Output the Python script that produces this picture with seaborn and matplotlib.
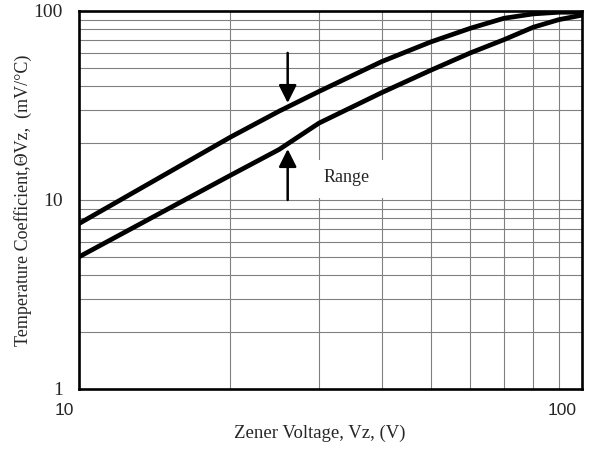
import numpy as np
import pandas as pd
import matplotlib
matplotlib.use("Agg")
import matplotlib.pyplot as plt
import matplotlib.transforms as mtransforms
from matplotlib.patches import Rectangle
from matplotlib.ticker import LogLocator, NullFormatter, FixedLocator, FixedFormatter
import seaborn as sns

# ---- data ----
vz_upper = [10, 20, 25, 30, 40, 50, 60, 70, 80, 90, 100]
tc_upper = [7.5, 21.5, 29.5, 37.5, 54, 68.5, 81, 91.5, 96.5, 98.5, 98.5]
vz_lower = [10, 20, 25, 30, 40, 50, 60, 70, 80, 90, 100]
tc_lower = [5.0, 13.5, 18.5, 25.5, 37, 48.5, 60, 70.5, 82, 90, 95]
x_ticks = [10, 100]
x_ticklabels = ["10", "100"]
y_ticks = [1, 10, 100]
y_ticklabels = ["1", "10", "100"]
range_label = "Range"
arrow_x = 26.0
arrow_down = (60.0, 32.6)   # start, tip
arrow_up = (10.0, 18.6)     # start, tip

df = pd.concat([
    pd.DataFrame({"Vz": vz_upper, "TC": tc_upper, "curve": "max"}),
    pd.DataFrame({"Vz": vz_lower, "TC": tc_lower, "curve": "min"}),
])

sns.set_style("white")
serif = ["Liberation Serif", "DejaVu Serif"]
sans = ["Liberation Sans", "DejaVu Sans"]
plt.rcParams["font.family"] = serif

fig = plt.figure(figsize=(6.03, 4.5), dpi=100)
ax = fig.add_axes([0.131, 0.1356, 0.834, 0.84])

sns.lineplot(data=df, x="Vz", y="TC", hue="curve", palette=["black", "black"],
             linewidth=3.4, legend=False, ax=ax, zorder=4, sort=False,
             estimator=None)

ax.set_xscale("log")
ax.set_yscale("log")
ax.set_xlim(10, 100)
ax.set_ylim(1, 100)

# grid
ax.xaxis.set_minor_locator(LogLocator(base=10, subs=np.arange(2, 10)))
ax.yaxis.set_minor_locator(LogLocator(base=10, subs=np.arange(2, 10)))
ax.xaxis.set_minor_formatter(NullFormatter())
ax.yaxis.set_minor_formatter(NullFormatter())
ax.grid(True, which="both", color="#808080", linewidth=0.8, zorder=1)

ax.xaxis.set_major_locator(FixedLocator(x_ticks))
ax.xaxis.set_major_formatter(FixedFormatter(x_ticklabels))
ax.yaxis.set_major_locator(FixedLocator(y_ticks))
ax.yaxis.set_major_formatter(FixedFormatter(y_ticklabels))
ax.tick_params(which="both", length=0)
ax.tick_params(axis="x", pad=10, labelsize=12)
ax.tick_params(axis="y", pad=11.5, labelsize=14)

for s in ax.spines.values():
    s.set_visible(True)
    s.set_color("black")
    s.set_linewidth(1.9)
    s.set_zorder(5)

ax.set_xlabel("Zener Voltage, Vz, (V)", fontsize=13.5, fontfamily=serif)
ax.xaxis.set_label_coords(0.479, -0.094)
ax.set_ylabel("Temperature Coefficient,\u0398Vz,  (mV/\u00b0C)", fontsize=13,
              fontfamily=serif, labelpad=1)

# white box behind "Range"
ax.add_patch(Rectangle((27.5, 10.3), 43 - 27.5, 16.3 - 10.3, facecolor="white",
                       edgecolor="none", zorder=2))
ax.text(34.0, 13.1, range_label, fontsize=13, fontfamily=serif,
        ha="center", va="center", zorder=3)

# arrows
aprops = dict(arrowstyle="-|>,head_length=0.4,head_width=0.2", mutation_scale=27,
              lw=1.8, color="black", shrinkA=0, shrinkB=0)
ax.annotate("", xy=(arrow_x, arrow_down[1]), xytext=(arrow_x, arrow_down[0]),
            arrowprops=aprops, zorder=6)
ax.annotate("", xy=(arrow_x, arrow_up[1]), xytext=(arrow_x, arrow_up[0]),
            arrowprops=aprops, zorder=6)

fig.canvas.draw()
for lab in ax.get_xticklabels():
    lab.set_fontfamily(sans)
    lab.set_fontsize(12.5)
    lab.set_horizontalalignment("right")
    lab.set_transform(lab.get_transform() + mtransforms.ScaledTranslation(-0.05, 0, fig.dpi_scale_trans))
for lab in ax.get_yticklabels():
    lab.set_fontfamily(serif)
    lab.set_fontsize(14)

fig.savefig("out.png", dpi=100)
